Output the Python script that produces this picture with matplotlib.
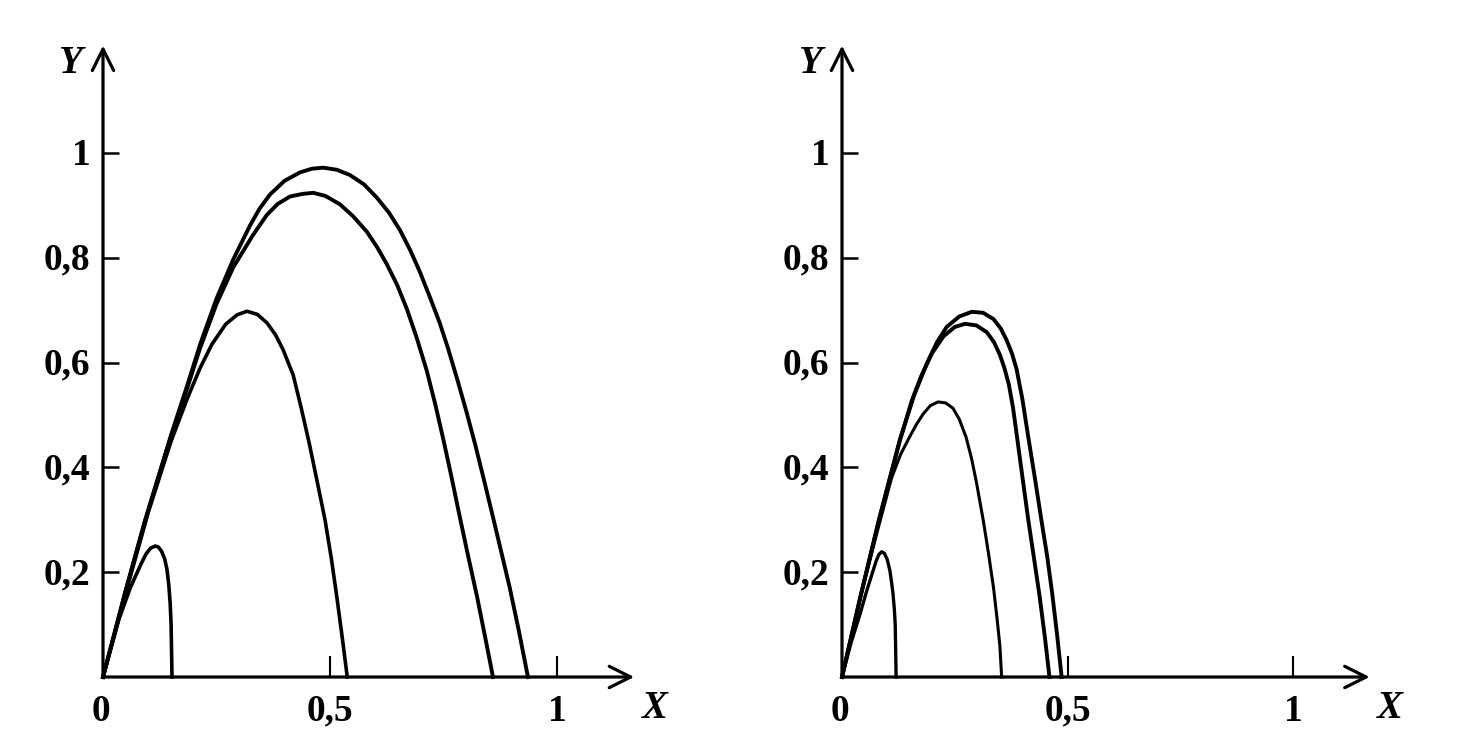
import matplotlib
matplotlib.use('Agg')
import matplotlib.pyplot as plt

# values (trajectories, two panels)
left_a_x = [0, 0.05, 0.0925, 0.15, 0.185, 0.214, 0.25, 0.287, 0.324, 0.345, 0.368, 0.40, 0.434, 0.46, 0.485, 0.515, 0.544,
            0.575, 0.603, 0.63, 0.654, 0.677, 0.698, 0.72, 0.742, 0.76, 0.779, 0.80, 0.82, 0.84, 0.859, 0.878, 0.896,
            0.916, 0.936]
left_a_y = [0, 0.165, 0.298, 0.462, 0.555, 0.635, 0.722, 0.797, 0.862, 0.894, 0.921, 0.947, 0.963, 0.970, 0.972, 0.968,
            0.958, 0.94, 0.915, 0.886, 0.853, 0.814, 0.773, 0.725, 0.675, 0.627, 0.572, 0.508, 0.443, 0.373, 0.305,
            0.236, 0.170, 0.088, 0]
left_b_x = [0, 0.05, 0.0925, 0.15, 0.185, 0.214, 0.25, 0.287, 0.33, 0.361, 0.385, 0.412, 0.44, 0.463, 0.49, 0.522, 0.55,
            0.581, 0.604, 0.625, 0.648, 0.669, 0.69, 0.713, 0.732, 0.75, 0.768, 0.786, 0.805, 0.824, 0.842, 0.859]
left_b_y = [0, 0.165, 0.298, 0.46, 0.55, 0.628, 0.712, 0.782, 0.843, 0.882, 0.903, 0.917, 0.922, 0.924, 0.918, 0.902,
            0.88, 0.85, 0.82, 0.788, 0.748, 0.703, 0.65, 0.585, 0.52, 0.452, 0.38, 0.305, 0.228, 0.153, 0.075, 0]
left_c_x = [0, 0.05, 0.1, 0.15, 0.185, 0.214, 0.24, 0.27, 0.295, 0.317, 0.34, 0.361, 0.38, 0.397, 0.419, 0.437, 0.455,
            0.472, 0.489, 0.503, 0.515, 0.527, 0.538]
left_c_y = [0, 0.16, 0.315, 0.45, 0.53, 0.59, 0.635, 0.673, 0.691, 0.698, 0.692, 0.676, 0.653, 0.624, 0.576, 0.512,
            0.443, 0.372, 0.30, 0.226, 0.153, 0.075, 0]
left_d_x = [0, 0.035, 0.06, 0.074, 0.085, 0.095, 0.105, 0.115, 0.122, 0.129, 0.136, 0.141, 0.145, 0.148, 0.150, 0.151, 0.152]
left_d_y = [0, 0.11, 0.17, 0.197, 0.218, 0.235, 0.246, 0.25, 0.248, 0.24, 0.225, 0.205, 0.175, 0.14, 0.10, 0.05, 0]

right_a_x = [0, 0.04, 0.082, 0.128, 0.16, 0.188, 0.21, 0.232, 0.26, 0.288, 0.313, 0.336, 0.352, 0.365, 0.377, 0.387,
             0.40, 0.413, 0.428, 0.442, 0.455, 0.466, 0.477, 0.487]
right_a_y = [0, 0.15, 0.30, 0.452, 0.538, 0.598, 0.638, 0.668, 0.688, 0.697, 0.695, 0.683, 0.665, 0.643, 0.617, 0.588,
             0.53, 0.458, 0.378, 0.30, 0.23, 0.16, 0.08, 0]
right_b_x = [0, 0.04, 0.082, 0.128, 0.155, 0.175, 0.199, 0.225, 0.25, 0.273, 0.298, 0.321, 0.337, 0.350, 0.36, 0.37,
             0.379, 0.387, 0.40, 0.413, 0.426, 0.438, 0.45, 0.460]
right_b_y = [0, 0.15, 0.30, 0.45, 0.528, 0.573, 0.617, 0.650, 0.668, 0.674, 0.671, 0.658, 0.639, 0.615, 0.59, 0.558,
             0.515, 0.465, 0.382, 0.30, 0.225, 0.155, 0.075, 0]
right_c_x = [0, 0.04, 0.082, 0.11, 0.13, 0.151, 0.165, 0.18, 0.196, 0.213, 0.23, 0.246, 0.26, 0.275, 0.287, 0.298,
             0.313, 0.325, 0.336, 0.344, 0.350, 0.354]
right_c_y = [0, 0.15, 0.29, 0.38, 0.425, 0.46, 0.482, 0.502, 0.518, 0.525, 0.523, 0.513, 0.492, 0.458, 0.418, 0.372,
             0.30, 0.235, 0.17, 0.11, 0.06, 0]
right_d_x = [0, 0.02, 0.04, 0.055, 0.066, 0.076, 0.082, 0.088, 0.094, 0.1, 0.106, 0.11, 0.113, 0.116, 0.118, 0.119, 0.12]
right_d_y = [0, 0.065, 0.12, 0.165, 0.195, 0.222, 0.234, 0.239, 0.236, 0.225, 0.204, 0.18, 0.16, 0.13, 0.10, 0.05, 0]

y_ticks = [0.2, 0.4, 0.6, 0.8, 1]
y_tick_labels = ['0,2', '0,4', '0,6', '0,8', '1']
x_ticks = [0.5, 1]
x_tick_labels = ['0,5', '1']

SERIF = ['Liberation Serif', 'DejaVu Serif']


def draw_panel(ax, curves, widths):
    ax.set_axis_off()
    arrow = dict(arrowstyle='->,head_length=0.7,head_width=0.35', lw=2.3,
                 color='black', mutation_scale=22, shrinkA=0, shrinkB=0)
    # axes with arrow heads
    ax.annotate('', xy=(0, 1.205), xytext=(0, 0), arrowprops=arrow)
    ax.annotate('', xy=(1.17, 0), xytext=(0, 0), arrowprops=arrow)

    # tick marks
    for t in y_ticks:
        ax.plot([0, 0.035], [t, t], color='black', lw=1.8, solid_capstyle='butt')
    for t in x_ticks:
        ax.plot([t, t], [0, 0.04], color='black', lw=1.5, solid_capstyle='butt')

    # tick labels
    for t, lab in zip(y_ticks, y_tick_labels):
        ax.text(-0.028, t - 0.005, lab, ha='right', va='center', fontsize=27,
                fontweight='bold', family=SERIF)
    ax.text(-0.005, -0.065, '0', ha='center', va='center', fontsize=27,
            fontweight='bold', family=SERIF)
    for t, lab in zip(x_ticks, x_tick_labels):
        ax.text(t, -0.065, lab, ha='center', va='center', fontsize=27,
                fontweight='bold', family=SERIF)
    ax.text(-0.07, 1.17, 'Y', ha='center', va='center', fontsize=28,
            fontweight='bold', style='italic', family=SERIF)
    ax.text(1.215, -0.06, 'X', ha='center', va='center', fontsize=28,
            fontweight='bold', style='italic', family=SERIF)

    for (cx, cy), w in zip(curves, widths):
        ax.plot(cx, cy, color='black', lw=w, solid_joinstyle='round')


fig = plt.figure(figsize=(14.62, 7.36), dpi=100)

# left panel: origin at pixel (103, 677), 454 px per x unit, 524 px per y unit
ax1 = fig.add_axes([0, 0, 720 / 1462, 1])
ax1.set_xlim((0 - 103) / 454, (720 - 103) / 454)
ax1.set_ylim((677 - 736) / 524, 677 / 524)
draw_panel(ax1,
           [(left_a_x, left_a_y), (left_b_x, left_b_y), (left_c_x, left_c_y), (left_d_x, left_d_y)],
           [2.8, 2.8, 2.6, 2.6])

# right panel: origin at pixel (842, 677), 451 px per x unit
ax2 = fig.add_axes([730 / 1462, 0, 732 / 1462, 1])
ax2.set_xlim((730 - 842) / 451, (1462 - 842) / 451)
ax2.set_ylim((677 - 736) / 524, 677 / 524)
draw_panel(ax2,
           [(right_a_x, right_a_y), (right_b_x, right_b_y), (right_c_x, right_c_y), (right_d_x, right_d_y)],
           [2.8, 2.8, 2.2, 2.4])

fig.savefig('out.png', dpi=100, facecolor='white')
